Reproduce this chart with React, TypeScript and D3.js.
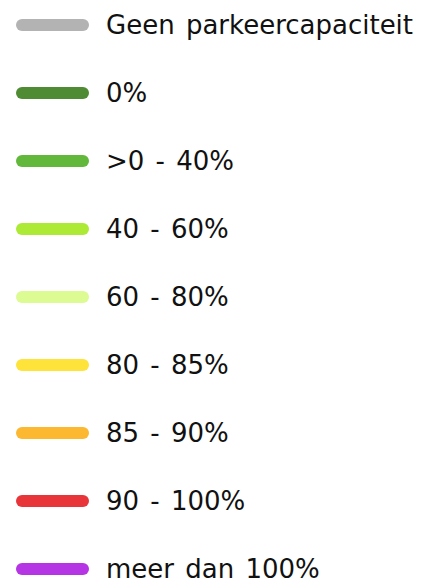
import * as d3 from 'd3';
import { useEffect, useRef } from 'react';

const labels = [
    'Geen parkeercapaciteit',
    '0%',
    '>0 - 40%',
    '40 - 60%',
    '60 - 80%',
    '80 - 85%',
    '85 - 90%',
    '90 - 100%',
    'meer dan 100%',
];

const colors = [
    '#b3b3b3',
    '#4e8b33',
    '#62b83a',
    '#acea35',
    '#dcfb92',
    '#fde33a',
    '#fdb831',
    '#e8353a',
    '#b534e4',
];

export default function App() {
    const svgRef = useRef<SVGSVGElement | null>(null);

    useEffect(() => {
        if (!svgRef.current) return;
        const width = 424;
        const height = 583;

        const svg = d3.select(svgRef.current)
            .attr('width', width)
            .attr('height', height);
        svg.selectAll('*').remove();

        // rijen van de legenda
        const y = d3.scalePoint<string>()
            .domain(labels)
            .range([25, 569]);

        const rows = svg.selectAll('g.row')
            .data(labels)
            .enter()
            .append('g')
            .attr('class', 'row')
            .attr('transform', d => `translate(0,${y(d)})`);

        rows.append('line')
            .attr('x1', 22)
            .attr('x2', 83)
            .attr('stroke', (_, i) => colors[i])
            .attr('stroke-width', 12)
            .attr('stroke-linecap', 'round');

        rows.append('text')
            .attr('x', 106)
            .attr('dy', '0.36em')
            .style('font-family', '"DejaVu Sans", Verdana, sans-serif')
            .style('font-size', '26px')
            .style('word-spacing', '3px')
            .attr('fill', '#111')
            .text(d => d);
    }, []);

    return (
        <div style={{ position: 'absolute', left: 0, top: 0 }}>
            <svg ref={svgRef} style={{ display: 'block' }} />
        </div>
    );
}
